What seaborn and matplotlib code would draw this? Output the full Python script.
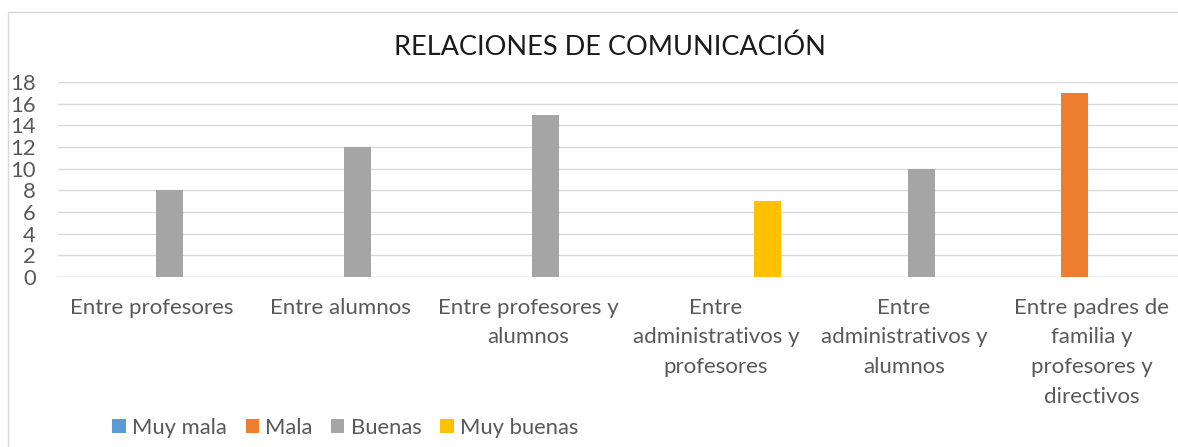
import matplotlib
matplotlib.use("Agg")
import matplotlib.pyplot as plt
from matplotlib.patches import Patch, Rectangle
import seaborn as sns
import pandas as pd

# ---- data ----
categories = [
    "Entre profesores",
    "Entre alumnos",
    "Entre profesores y alumnos",
    "Entre administrativos y profesores",
    "Entre administrativos y alumnos",
    "Entre padres de familia y profesores y directivos",
]
tick_labels = [
    "Entre profesores",
    "Entre alumnos",
    "Entre profesores y\nalumnos",
    "Entre\nadministrativos y\nprofesores",
    "Entre\nadministrativos y\nalumnos",
    "Entre padres de\nfamilia y\nprofesores y\ndirectivos",
]
series_names = ["Muy mala", "Mala", "Buenas", "Muy buenas"]
muy_mala = [0, 0, 0, 0, 0, 0]
mala = [0, 0, 0, 0, 0, 17]
buenas = [8, 12, 15, 0, 10, 0]
muy_buenas = [0, 0, 0, 7, 0, 0]
colors = ["#5b9bd5", "#ed7d31", "#a5a5a5", "#ffc000"]
title = "RELACIONES DE COMUNICACIÓN"

rows = []
for name, vals in zip(series_names, [muy_mala, mala, buenas, muy_buenas]):
    for c, v in zip(categories, vals):
        rows.append({"cat": c, "serie": name, "val": v})
df = pd.DataFrame(rows)

sns.set_theme(style="white")
plt.rcParams["font.family"] = ["Lato", "DejaVu Sans"]

W, H = 1178, 447
fig = plt.figure(figsize=(W / 100, H / 100), dpi=100)
fig.patch.set_facecolor("white")

x0, x1 = 58, 1186
y0, y1 = 277, 82
ax = fig.add_axes([x0 / W, 1 - y0 / H, (x1 - x0) / W, (y0 - y1) / H])

sns.barplot(
    data=df, x="cat", y="val", hue="serie",
    order=categories, hue_order=series_names,
    palette=colors, saturation=1, width=0.73, gap=0.21,
    errorbar=None, linewidth=0, legend=False, ax=ax,
)

ax.set_ylim(0, 18)
ax.set_xlim(-0.5, len(categories) - 0.5)
ax.set_yticks(range(0, 19, 2))
ax.set_xticks(range(len(categories)))
ax.set_xticklabels(tick_labels, linespacing=1.6)
ax.set_xlabel("")
ax.set_ylabel("")
ax.yaxis.grid(True, color="#d9d9d9", linewidth=1.0)
ax.set_axisbelow(True)
for s in ax.spines.values():
    s.set_visible(False)
ax.axhline(0, color="#d9d9d9", linewidth=1.0, zorder=0.5)
ax.tick_params(axis="y", length=0, pad=16, labelsize=15.8, labelcolor="#595959")
ax.tick_params(axis="x", length=0, pad=15, labelsize=16, labelcolor="#595959")
for lab in ax.get_yticklabels():
    lab.set_horizontalalignment("right")

fig.text(610 / W, 1 - 47 / H, title, ha="center", va="center",
         fontsize=19.5, color="#1a1a1a")

handles = [Patch(facecolor=c, edgecolor="none", label=n) for c, n in zip(colors, series_names)]
fig.legend(handles=handles, loc="center", bbox_to_anchor=(345.5 / W, 1 - 428 / H),
           ncol=4, frameon=False, fontsize=15.8, handlelength=0.6, handleheight=0.6,
           handletextpad=0.3, columnspacing=0.85, labelcolor="#595959")

fig.add_artist(Rectangle((7.5 / W, -0.1), 1.2, (H - 12.5) / H + 0.1,
                         transform=fig.transFigure, fill=False,
                         edgecolor="#d9d9d9", linewidth=1.0))

fig.savefig("out.png", dpi=100, facecolor="white")
